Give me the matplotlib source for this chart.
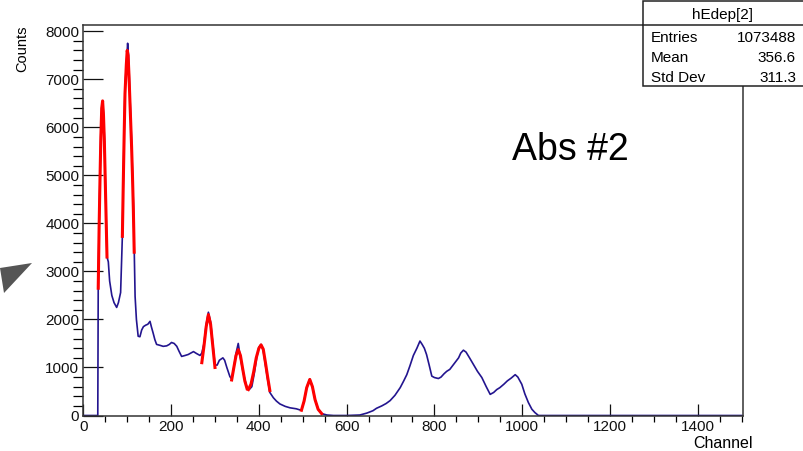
import numpy as np
import matplotlib.pyplot as plt
from matplotlib.patches import Rectangle, Polygon
from matplotlib.ticker import MultipleLocator

plt.rcParams['font.family'] = ['Liberation Sans', 'DejaVu Sans']

# histogram (channel, counts)
channel = [0, 33, 34, 36, 38, 40, 42, 44, 46, 48, 50, 52, 54, 57, 60, 65, 70, 76, 80, 85,
           89, 91, 93, 95, 98, 100, 101, 103, 106, 110, 114, 116, 118, 121, 125, 129, 133,
           137, 142, 147, 152, 155, 159, 163, 167, 175, 182, 190, 196, 201, 207, 213, 218,
           224, 232, 239, 245, 251, 258, 266, 270, 275, 280, 285, 290, 295, 300, 305, 310,
           318, 322, 327, 334, 338, 343, 348, 353, 358, 363, 368, 373, 378, 384, 390, 395,
           400, 405, 410, 415, 420, 425, 433, 440, 448, 460, 471, 485, 494, 497, 503, 509,
           516, 522, 528, 535, 543, 555, 570, 600, 630, 646, 660, 668, 680, 690, 699, 710,
           722, 730, 737, 744, 752, 760, 767, 772, 777, 782, 788, 794, 800, 809, 815, 822,
           828, 835, 845, 855, 860, 866, 872, 880, 889, 898, 908, 918, 927, 935, 942, 949,
           958, 966, 975, 984, 990, 999, 1006, 1014, 1022, 1029, 1037, 1500]
counts = [0, 0, 2650, 4000, 5000, 5900, 6400, 6550, 6300, 5800, 5000, 4200, 3300, 3200, 2800,
          2500, 2350, 2250, 2350, 2560, 3730, 4850, 5900, 6830, 7300, 7620, 7750, 7500, 6730,
          5690, 4440, 3400, 2480, 2000, 1650, 1640, 1780, 1850, 1880, 1900, 1960, 1850, 1720,
          1580, 1480, 1460, 1440, 1450, 1480, 1520, 1500, 1440, 1340, 1230, 1250, 1270, 1300,
          1330, 1290, 1250, 1300, 1500, 1900, 2150, 1950, 1500, 1050, 1050, 1150, 1200, 1150,
          1000, 810, 760, 1000, 1300, 1500, 1200, 950, 750, 580, 540, 600, 900, 1200, 1420,
          1480, 1350, 1050, 750, 480, 370, 300, 240, 190, 160, 140, 115, 110, 300, 580, 760,
          600, 330, 130, 40, 10, 0, 0, 10, 50, 100, 150, 200, 250, 310, 420, 580, 720, 850,
          1030, 1250, 1400, 1550, 1480, 1400, 1270, 1050, 820, 790, 770, 800, 870, 920, 960,
          1080, 1200, 1300, 1360, 1320, 1200, 1060, 920, 790, 600, 440, 480, 540, 580, 650,
          720, 780, 850, 800, 650, 450, 270, 130, 60, 0, 0]

# gaussian fits (red)
fit1_ch = [34, 36, 38, 40, 42, 44, 46, 48, 50, 52, 54]
fit1_y = [2650, 3900, 4900, 5800, 6400, 6550, 6250, 5700, 4900, 4100, 3300]
fit2_ch = [89, 91, 93, 95, 98, 100, 102, 104, 106, 108, 110, 112, 114, 116]
fit2_y = [3730, 4800, 5800, 6700, 7300, 7600, 7500, 7100, 6600, 6100, 5600, 5000, 4300, 3400]
fit3_ch = [270, 275, 280, 285, 290, 295, 300]
fit3_y = [1100, 1450, 1850, 2100, 1900, 1450, 1000]
fit4_ch = [338, 343, 348, 353, 358, 363, 368, 373]
fit4_y = [740, 1000, 1250, 1370, 1250, 980, 720, 560]
fit5_ch = [376, 382, 388, 394, 400, 405, 410, 415, 420, 425]
fit5_y = [540, 650, 900, 1200, 1400, 1470, 1380, 1100, 800, 520]
fit6_ch = [497, 503, 509, 516, 522, 528, 535, 543]
fit6_y = [110, 300, 580, 750, 600, 330, 130, 40]

W, H = 804, 451
fig = plt.figure(figsize=(W / 100, H / 100), dpi=100)
ax = fig.add_axes([83.3 / W, (H - 415.5) / H, (743 - 83.3) / W, (415.5 - 25) / H])

ax.plot(channel, counts, color='#23158f', lw=1.2)
for cx, cy in [(fit1_ch, fit1_y), (fit2_ch, fit2_y), (fit3_ch, fit3_y),
               (fit4_ch, fit4_y), (fit5_ch, fit5_y), (fit6_ch, fit6_y)]:
    ax.plot(cx, cy, color='#ff0000', lw=2.2)

ax.set_xlim(0, 1503)
ax.set_ylim(0, 8130)
ax.xaxis.set_major_locator(MultipleLocator(200))
ax.xaxis.set_minor_locator(MultipleLocator(50))
ax.yaxis.set_major_locator(MultipleLocator(1000))
ax.yaxis.set_minor_locator(MultipleLocator(200))
ax.tick_params(axis='both', direction='in', labelsize=11, colors='#111111', width=0.9)
ax.tick_params(axis='y', which='major', length=14.4, pad=3)
ax.tick_params(axis='y', which='minor', length=7.2, width=0.9)
ax.tick_params(axis='x', which='major', length=8.6, pad=3)
ax.tick_params(axis='x', which='minor', length=4.3, width=0.9)
for s in ax.spines.values():
    s.set_color('#333333')
    s.set_linewidth(1.1)

fig.text(22 / W, 1 - 25 / H, 'Counts', rotation=90, ha='center', va='top', fontsize=10.5)
fig.text(753 / W, 1 - 443 / H, 'Channel', ha='right', va='center', fontsize=11.5)
fig.text(512 / W, 1 - 150 / H, 'Abs #2', ha='left', va='center', fontsize=27)

# stats box
box = Rectangle((643 / W, 1 - 86 / H), (806 - 643) / W, (86 - 1) / H,
                transform=fig.transFigure, facecolor='white', edgecolor='#222222', lw=1.1)
fig.add_artist(box)
fig.add_artist(plt.Line2D([643 / W, 806 / W], [1 - 25 / H, 1 - 25 / H],
                          transform=fig.transFigure, color='#222222', lw=1.1))
fig.text(723 / W, 1 - 15 / H, 'hEdep[2]', ha='center', va='center', fontsize=11)
for name, val, yy in [('Entries', '1073488', 37.7), ('Mean', '356.6', 57.7),
                      ('Std Dev', '311.3', 77.7)]:
    fig.text(651 / W, 1 - yy / H, name, ha='left', va='center', fontsize=11)
    fig.text(796 / W, 1 - yy / H, val, ha='right', va='center', fontsize=11)

# grey pointer on the left edge
tri = Polygon([(0, 1 - 268 / H), (32 / W, 1 - 263 / H), (4 / W, 1 - 293 / H)],
              closed=True, transform=fig.transFigure, facecolor='#555555', edgecolor='none')
fig.add_artist(tri)

fig.savefig('out.png', dpi=100)
